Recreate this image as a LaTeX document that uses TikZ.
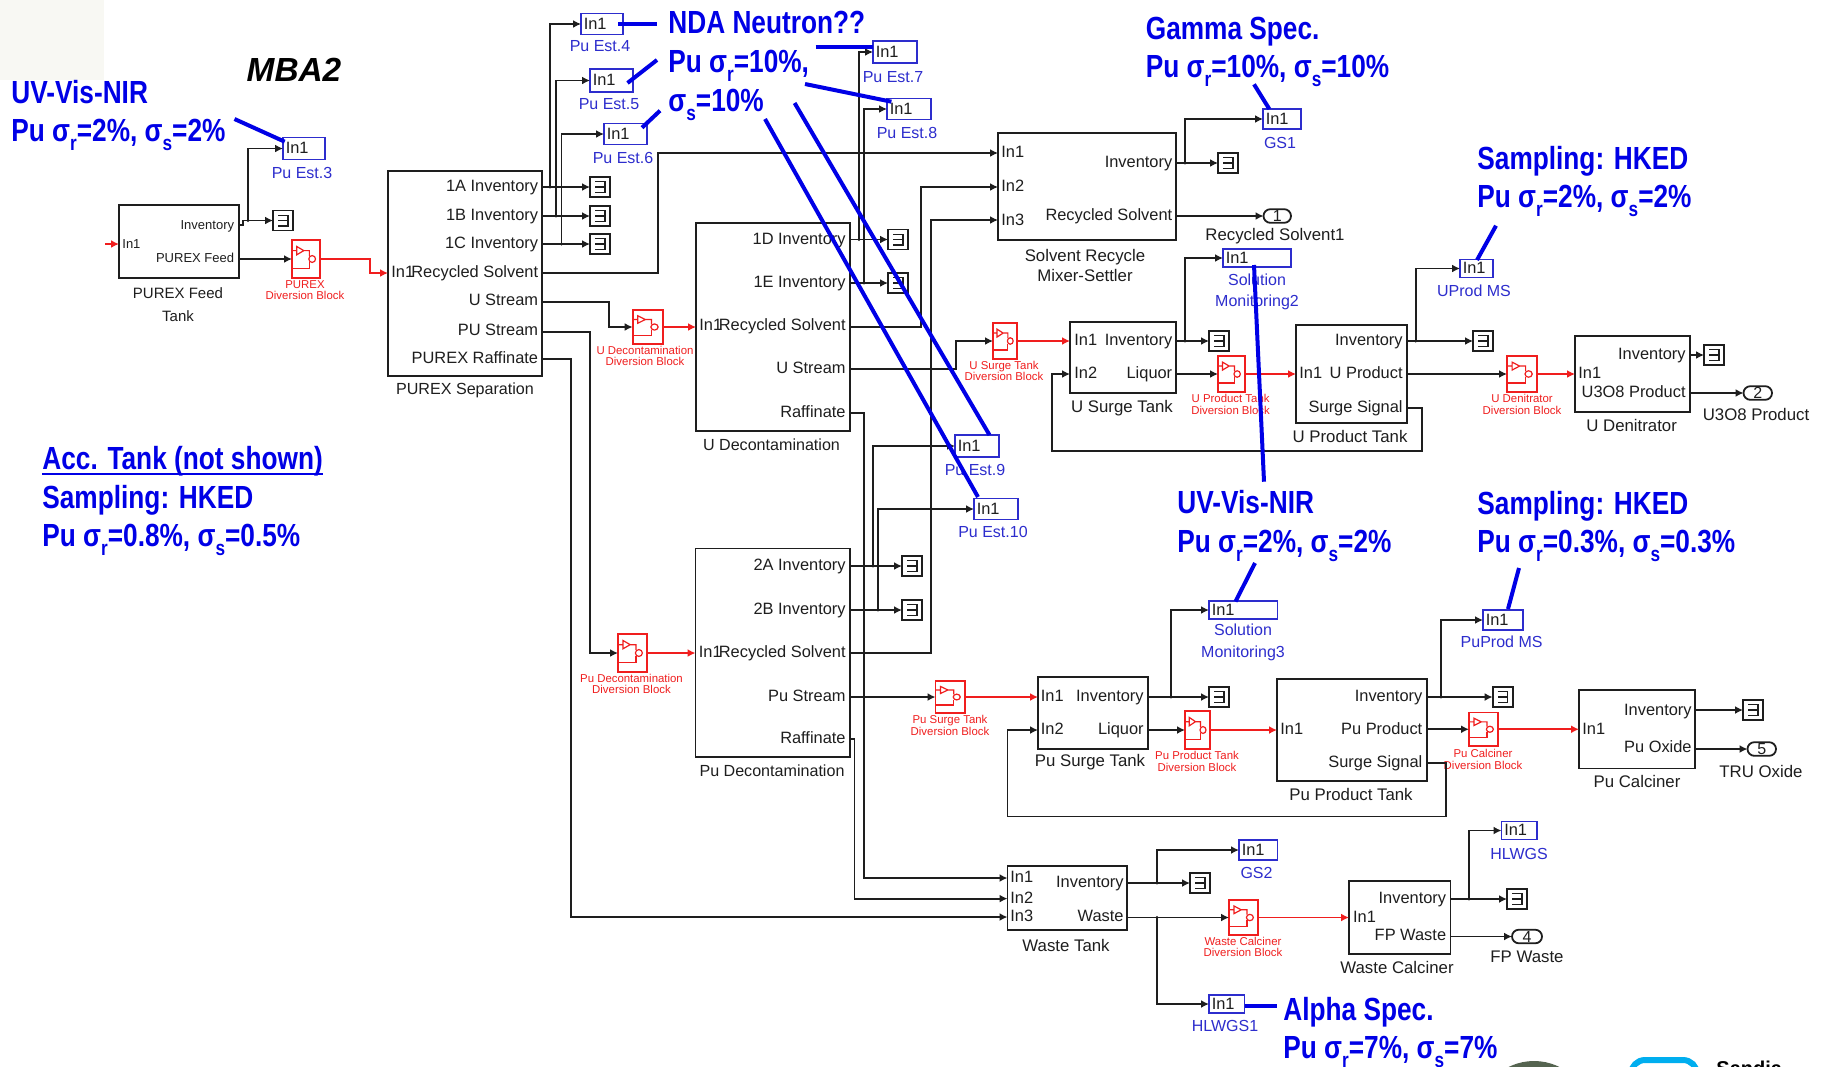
\documentclass[tikz,border=0pt]{standalone}
\usepackage{fontspec}
\setmainfont{Liberation Sans}
\newfontfamily\annofam[FakeStretch=0.82]{Liberation Sans}
\usetikzlibrary{arrows.meta,shapes.misc}
\definecolor{annoblue}{RGB}{0,0,230}
\definecolor{sinkblue}{RGB}{45,45,205}
\definecolor{divred}{RGB}{240,30,30}
\definecolor{ink}{RGB}{30,30,30}
\definecolor{patch}{RGB}{248,248,243}
\definecolor{sealgreen}{RGB}{85,100,80}
\definecolor{logocyan}{RGB}{0,174,239}
\newcommand\sbs[1]{\raisebox{-.28em}{\fontsize{10.5}{10.5}\selectfont #1}}
\newcommand\sgr{σ\sbs{r}}
\newcommand\sgs{σ\sbs{s}}
\newcommand\ulineb[1]{{\setbox0\hbox{#1}\rlap{\raisebox{-2.8pt}{\rule{\wd0}{1pt}}}\box0}}
\newcommand\capsize{8.05}
\tikzset{
  x=.5pt,y=-.5pt,
  sig/.style={draw=ink,line width=.9pt,-{Latex[length=4pt,width=4pt]}},
  rsig/.style={draw=divred,line width=.9pt,-{Latex[length=4pt,width=4pt]}},
  wirebox/.style={draw=ink,line width=.9pt,inner sep=0,outer sep=0},
  scopebox/.style={draw=ink,line width=.9pt,inner sep=0,outer sep=0,minimum width=10pt,minimum height=10pt},
  sinkbox/.style={draw=sinkblue,line width=.9pt,inner sep=0,outer sep=0},
  divbox/.style={draw=divred,line width=.9pt,inner sep=0,outer sep=0},
  outbox/.style={draw=ink,line width=.9pt,rounded rectangle,inner sep=0,outer sep=0,font=\fontsize{8}{8}\selectfont,text=ink},
  lab/.style={inner sep=0,text=ink,font=\fontsize{8.2}{8.2}\selectfont,text height=6pt,text depth=1.7pt,yshift=-.7pt},
  smalllab/.style={lab,font=\fontsize{6.5}{6.5}\selectfont},
  captext/.style={inner sep=0,text=ink,align=center,yshift=-.8pt},
  bcap/.style={inner sep=0,text=sinkblue,align=center,yshift=-.4pt},
  rcap/.style={inner sep=0,text=divred,align=center,font=\fontsize{5.7}{5.8}\selectfont},
  anno/.style={inner sep=0,anchor=west,align=left,text=annoblue,yshift=-2pt,font=\annofam\bfseries\fontsize{16}{19.4}\selectfont},
  annoline/.style={draw=annoblue,line width=2pt},
}
\newcommand\blk[5]{%
  \pgfmathsetmacro\bw{(#4-#2)*.5}\pgfmathsetmacro\bh{(#5-#3)*.5}%
  \node[wirebox,minimum width=\bw pt,minimum height=\bh pt] (#1) at ({(#2+#4)/2},{(#3+#5)/2}) {};}
\newcommand\scp[3]{%
  \node[scopebox,anchor=west] (#1) at (#2,#3) {};
  \draw[ink,line width=.6pt] ([xshift=-2.5pt,yshift=2.7pt]#1.center) -- ([xshift=2.5pt,yshift=2.7pt]#1.center) -- ([xshift=2.5pt,yshift=-2.7pt]#1.center) -- ([xshift=-2.5pt,yshift=-2.7pt]#1.center)
     ([xshift=2.5pt]#1.center) -- ([xshift=-2.5pt]#1.center);}
\newcommand\snk[5]{%
  \pgfmathsetmacro\bw{(#3-#2)*.5}\pgfmathsetmacro\bh{#5*.5}%
  \node[sinkbox,minimum width=\bw pt,minimum height=\bh pt] (#1) at ({(#2+#3)/2},#4) {};
  \node[lab,anchor=west,xshift=1.2pt,yshift=.3pt] (#1-t) at (#1.west) {In1};}
\newcommand\opt[5]{%
  \pgfmathsetmacro\bw{(#3-#2)*.5}%
  \node[outbox,minimum width=\bw pt,minimum height=6.8pt] (#1) at ({(#2+#3)/2},#4) {#5};}
\newcommand\dvb[5]{%
  \pgfmathsetmacro\bw{(#4-#2)*.5}\pgfmathsetmacro\bh{(#5-#3)*.5}%
  \node[divbox,minimum width=\bw pt,minimum height=\bh pt] (#1) at ({(#2+#4)/2},{(#3+#5)/2}) {};
  \begin{scope}[shift={(#2,#3)},x=\bw pt,y=-\bh pt,draw=divred,line width=.6pt]
    \draw (0,.28) -- (.17,.28) (.17,.17) -- (.17,.39) -- (.42,.28) -- cycle (.42,.28) -- (.62,.28) -- (.62,.42);
    \draw (.72,.5) ellipse (.12 and .09);
    \draw (0,.75) -- (.62,.75) -- (.62,.58);
  \end{scope}}
\newcommand\PL[4]{\node[lab,anchor=west] (#1) at (#2,#3) {#4};}
\newcommand\PR[4]{\node[lab,anchor=east] (#1) at (#2,#3) {#4};}
\newcommand\CP[5]{\node[captext,font=\fontsize{\capsize}{#5}\selectfont] (#1) at (#2,#3) {#4};}
\newcommand\BC[5]{\node[bcap,font=\fontsize{8}{#5}\selectfont] (#1) at (#2,#3) {#4};}
\newcommand\RC[4]{\node[rcap] (#1) at (#2,#3) {#4};}
\newcommand\jn[3]{\coordinate (#1) at (#2,#3);\fill[ink] (#1) circle (1.7);}
\newcommand\ann[5]{\coordinate (#1-a) at (#2,#3);\coordinate (#1-b) at (#4,#5);\draw[annoline] (#1-a) -- (#1-b);}
\begin{document}
\begin{tikzpicture}
\useasboundingbox (0,0) rectangle (1825,1066);
\fill[white] (0,0) rectangle (1825,1066);
\fill[patch] (0,0) rectangle (104,80);
\node[inner sep=0,text=black,font=\bfseries\itshape\fontsize{16.7}{16.7}\selectfont] (mba) at (294,70) {MBA2};

% ---------- subsystem blocks
\blk{feed}{119}{205}{239}{278}
\blk{sep}{388}{171}{542}{376}
\blk{sr}{998}{133}{1176}{240}
\blk{ud}{696}{223}{850}{431}
\blk{us}{1070}{322}{1176}{393}
\blk{upt}{1296}{325}{1407}{423}
\blk{den}{1575}{336}{1690}{412}
\blk{pd}{695.5}{548.5}{850}{757}
\blk{pst}{1038}{677}{1148}{749}
\blk{ppt}{1277}{679}{1427}{781}
\blk{cal}{1579}{690}{1695}{768.5}
\blk{wt}{1007.5}{866}{1127}{930}
\blk{wc}{1349}{881}{1450.5}{954}

% ---------- scopes
\scp{sc1}{273}{220.5}
\scp{sc2}{590}{187}\scp{sc3}{590}{216}\scp{sc4}{590}{244}
\scp{sc5}{888}{239.5}\scp{sc6}{888}{283}
\scp{sc7}{1218}{163}\scp{sc8}{1209}{341}\scp{sc9}{1473}{341}\scp{sc10}{1704}{355}
\scp{sc11}{902}{566}\scp{sc12}{902}{610}
\scp{sc13}{1209}{697}\scp{sc14}{1492.6}{697}\scp{sc15}{1743}{710}
\scp{sc16}{1190}{883}\scp{sc17}{1507}{899}

% ---------- measurement sinks
\snk{est3}{283}{325}{148.5}{22}
\snk{est4}{581}{623}{24}{21}
\snk{est5}{590}{633}{80.5}{23}
\snk{est6}{604}{647}{134}{21}
\snk{est7}{873}{917}{52}{22}
\snk{est8}{887}{931}{109}{21}
\snk{est9}{955}{999}{446}{22}
\snk{est10}{974}{1018}{509}{21}
\snk{gs1}{1263}{1301}{119}{20}
\snk{sm2}{1223}{1291}{258}{18}
\snk{uprod}{1460}{1493}{268.5}{18}
\snk{sm3}{1209}{1277.5}{610}{18}
\snk{puprod}{1483}{1523}{620}{20}
\snk{gs2}{1239}{1277.5}{850}{20}
\snk{hlwgs}{1501.5}{1537}{830.5}{18}
\snk{hlwgs1}{1209}{1244.5}{1004}{18}

% ---------- outports
\opt{op1}{1263.5}{1291}{216}{1}
\opt{op2}{1743.5}{1772}{393}{2}
\opt{op5}{1747.5}{1776}{749}{5}
\opt{op4}{1512}{1542}{936.5}{4}

% ---------- diversion blocks
\dvb{dv1}{292}{240}{320}{278}
\dvb{dvu}{632.6}{310}{663}{344}
\dvb{dvus}{993}{323}{1017}{359}
\dvb{dvup}{1218}{356}{1244.6}{392}
\dvb{dvd}{1507}{356}{1537}{392}
\dvb{dvp}{618}{634}{647}{672}
\dvb{dvps}{935.5}{681}{965}{713}
\dvb{dvpp}{1185}{711}{1210}{749}
\dvb{dvc}{1469}{712.5}{1498}{746}
\dvb{dvw}{1229}{900}{1258}{935}

% ---------- port labels
\node[smalllab,anchor=west] (f1) at (122,243) {In1};
\node[smalllab,anchor=east] (f2) at (234.5,224) {Inventory};
\node[smalllab,anchor=east] (f3) at (234.5,256.5) {PUREX Feed};
\PR{s1}{538.5}{186}{1A Inventory}\PR{s2}{538.5}{215}{1B Inventory}\PR{s3}{538.5}{243}{1C Inventory}
\PL{s0}{391}{272}{In1}\PR{s4}{538.5}{272}{Recycled Solvent}\PR{s5}{538.5}{300}{U Stream}
\PR{s6}{538.5}{330}{PU Stream}\PR{s7}{538.5}{358}{PUREX Raffinate}
\PL{r1}{1001}{152}{In1}\PL{r2}{1001}{186}{In2}\PL{r3}{1001}{220}{In3}
\PR{r4}{1172.6}{162}{Inventory}\PR{r5}{1172.6}{215}{Recycled Solvent}
\PL{u0}{699}{325}{In1}\PR{u1}{846}{239}{1D Inventory}\PR{u2}{846}{282}{1E Inventory}
\PR{u3}{846}{325}{Recycled Solvent}\PR{u4}{846}{368}{U Stream}\PR{u5}{846}{412}{Raffinate}
\PL{su1}{1074}{340}{In1}\PL{su2}{1074}{373}{In2}\PR{su3}{1172.6}{340}{Inventory}\PR{su4}{1172.6}{373}{Liquor}
\PL{pu0}{1299}{373}{In1}\PR{pu1}{1403}{340}{Inventory}\PR{pu2}{1403}{373}{U Product}\PR{pu3}{1403}{407}{Surge Signal}
\PL{d0}{1578}{373}{In1}\PR{d1}{1686}{354}{Inventory}\PR{d2}{1686}{392}{U3O8 Product}
\PL{p0}{698.5}{651.5}{In1}\PR{p1}{846}{565}{2A Inventory}\PR{p2}{846}{609}{2B Inventory}
\PR{p3}{846}{651.5}{Recycled Solvent}\PR{p4}{846}{696}{Pu Stream}\PR{p5}{846}{738}{Raffinate}
\PL{ps1}{1040.5}{696}{In1}\PL{ps2}{1040.5}{729}{In2}\PR{ps3}{1144}{696}{Inventory}\PR{ps4}{1144}{729}{Liquor}
\PL{pp0}{1280}{728.5}{In1}\PR{pp1}{1422.7}{696}{Inventory}\PR{pp2}{1422.7}{728.5}{Pu Product}\PR{pp3}{1422.7}{762}{Surge Signal}
\PL{c0}{1582}{728.5}{In1}\PR{c1}{1692}{710}{Inventory}\PR{c2}{1692}{747}{Pu Oxide}
\PL{w1}{1010}{877}{In1}\PL{w2}{1010}{898}{In2}\PL{w3}{1010}{916}{In3}\PR{w4}{1124}{882}{Inventory}\PR{w5}{1124}{916}{Waste}
\PL{wc0}{1352.7}{916.5}{In1}\PR{wc1}{1446.5}{898}{Inventory}\PR{wc2}{1446.5}{935}{FP Waste}

% ---------- captions
\node[captext,font=\fontsize{7.5}{11.5}\selectfont] (cf) at (178,303) {PUREX Feed\\Tank};
\CP{cs}{465}{389}{PUREX Separation}{8}
\CP{cu}{771.5}{443}{U Decontamination}{8}
\CP{cp}{772}{769}{Pu Decontamination}{8}
\renewcommand\capsize{8.4}
\CP{csr}{1085}{264}{Solvent Recycle\\Mixer-Settler}{10}
\CP{cus}{1122}{407}{U Surge Tank}{8}
\CP{cup}{1350}{435}{U Product Tank}{8}
\CP{cd}{1631.6}{424}{U Denitrator}{8}
\CP{cop2}{1756}{413}{U3O8 Product}{8}
\CP{cop1}{1275}{235}{Recycled Solvent1}{8}
\CP{cps}{1090}{761}{Pu Surge Tank}{8}
\CP{cpp}{1351}{793}{Pu Product Tank}{8}
\CP{cc}{1637}{780}{Pu Calciner}{8}
\CP{cop5}{1761}{770}{TRU Oxide}{8}
\CP{cw}{1066}{944}{Waste Tank}{8}
\CP{cwc}{1397}{966}{Waste Calciner}{8}
\CP{cop4}{1527}{955}{FP Waste}{8}

\BC{be3}{302}{172}{Pu Est.3}{8}
\BC{be4}{600}{45}{Pu Est.4}{8}
\BC{be5}{609}{103}{Pu Est.5}{8}
\BC{be6}{623}{157}{Pu Est.6}{8}
\BC{be7}{893}{76}{Pu Est.7}{8}
\BC{be8}{907}{132}{Pu Est.8}{8}
\BC{be9}{975}{469}{Pu Est.9}{8}
\BC{be10}{993}{531}{Pu Est.10}{8}
\BC{bg1}{1280}{142}{GS1}{8}
\BC{bsm2}{1257}{291}{Solution\\Monitoring2}{10.2}
\BC{bup}{1474}{290}{UProd MS}{8}
\BC{bsm3}{1243}{641.5}{Solution\\Monitoring3}{11}
\BC{bpu}{1501.6}{641}{PuProd MS}{8}
\BC{bg2}{1256.5}{872}{GS2}{8}
\BC{bh}{1519}{853}{HLWGS}{8}
\BC{bh1}{1225}{1025}{HLWGS1}{8}

\RC{rd1}{305}{290}{PUREX\\Diversion Block}
\RC{rdu}{645}{356}{U Decontamination\\Diversion Block}
\RC{rdus}{1004}{371}{U Surge Tank\\Diversion Block}
\RC{rdup}{1230.6}{404.5}{U Product Tank\\Diversion Block}
\RC{rdd}{1522}{404.5}{U Denitrator\\Diversion Block}
\RC{rdp}{631.5}{684}{Pu Decontamination\\Diversion Block}
\RC{rdps}{950}{725.5}{Pu Surge Tank\\Diversion Block}
\RC{rdpp}{1197}{761.5}{Pu Product Tank\\Diversion Block}
\RC{rdc}{1483}{759.5}{Pu Calciner\\Diversion Block}
\RC{rdw}{1243}{947}{Waste Calciner\\Diversion Block}

% ---------- connectors
\coordinate (feedsrc) at (105,244);
\draw[rsig] (feedsrc) -- (feed.west |- feedsrc);
\draw[sig] (feed.east |- 0,225) -- ++(4,0) |- (sc1.west);
\jn{j1}{248}{220.5}\draw[sig] (j1) |- (est3.west);
\draw[sig] (dv1.west -| feed.east) -- (dv1.west);
\draw[rsig] (dv1.east) -- (370,259) |- (sep.west |- 0,273);

\draw[sig] (sc2.west -| sep.east) -- (sc2.west);
\draw[sig] (sc3.west -| sep.east) -- (sc3.west);
\draw[sig] (sc4.west -| sep.east) -- (sc4.west);
\jn{j2}{550}{187}\draw[sig] (j2) |- (est4.west);
\jn{j3}{556}{216}\draw[sig] (j3) |- (est5.west);
\jn{j4}{561.5}{244}\draw[sig] (j4) |- (est6.west);
\draw[sig] (sep.east |- 0,273) -- (658,273) |- (sr.west |- 0,153);
\draw[sig] (sep.east |- 0,302) -- (609,302) |- (dvu.west);
\draw[sig] (sep.east |- 0,332) -- (590,332) |- (dvp.west);
\draw[sig] (sep.east |- 0,359) -- (571,359) |- (wt.west |- 0,917);
\draw[rsig] (dvu.east) -- (ud.west |- dvu.east);
\draw[rsig] (dvp.east) -- (pd.west |- dvp.east);

\draw[sig] (sc5.west -| ud.east) -- (sc5.west);
\draw[sig] (sc6.west -| ud.east) -- (sc6.west);
\jn{j5}{859}{239.5}\draw[sig] (j5) |- (est7.west);
\jn{j6}{864}{283}\draw[sig] (j6) |- (est8.west);
\draw[sig] (ud.east |- 0,327) -- (921,327) |- (sr.west |- 0,187);
\draw[sig] (ud.east |- 0,369) -- (956,369) |- (dvus.west);
\draw[sig] (ud.east |- 0,413) -- (864,413) |- (wt.west |- 0,878);
\draw[rsig] (dvus.east) -- (us.west |- dvus.east);

\draw[sig] (sc11.west -| pd.east) -- (sc11.west);
\draw[sig] (sc12.west -| pd.east) -- (sc12.west);
\jn{j7}{873}{566}\draw[sig] (j7) |- (est9.west);
\jn{j8}{878}{610}\draw[sig] (j8) |- (est10.west);
\draw[sig] (pd.east |- 0,653) -- (931,653) |- (sr.west |- 0,220);
\draw[sig] (dvps.west -| pd.east) -- (dvps.west);
\draw[sig] (pd.east |- 0,739) -- (854.5,739) |- (wt.west |- 0,898.6);
\draw[rsig] (dvps.east) -- (pst.west |- dvps.east);

\draw[sig] (sc7.west -| sr.east) -- (sc7.west);
\jn{j9}{1185}{163}\draw[sig] (j9) |- (gs1.west);
\draw[sig] (op1.west -| sr.east) -- (op1.west);

\draw[sig] (sc8.west -| us.east) -- (sc8.west);
\jn{j10}{1185}{341}\draw[sig] (j10) |- (sm2.west);
\draw[sig] (dvup.west -| us.east) -- (dvup.west);
\draw[rsig] (dvup.east) -- (upt.west |- dvup.east);
\draw[sig] (sc9.west -| upt.east) -- (sc9.west);
\jn{j11}{1415.7}{341}\draw[sig] (j11) |- (uprod.west);
\draw[sig] (dvd.west -| upt.east) -- (dvd.west);
\draw[rsig] (dvd.east) -- (den.west |- dvd.east);
\draw[sig] (upt.east |- 0,408) -- (1422,408) -- (1422,451) -- (1052,451) |- (us.west |- 0,374);
\draw[sig] (sc10.west -| den.east) -- (sc10.west);
\draw[sig] (op2.west -| den.east) -- (op2.west);

\draw[sig] (sc13.west -| pst.east) -- (sc13.west);
\jn{j12}{1171}{697}\draw[sig] (j12) |- (sm3.west);
\draw[sig] (dvpp.west -| pst.east) -- (dvpp.west);
\draw[rsig] (dvpp.east) -- (ppt.west |- dvpp.east);
\draw[sig] (sc14.west -| ppt.east) -- (sc14.west);
\jn{j13}{1441}{697}\draw[sig] (j13) |- (puprod.west);
\draw[sig] (dvc.west -| ppt.east) -- (dvc.west);
\draw[rsig] (dvc.east) -- (cal.west |- dvc.east);
\draw[sig] (ppt.east |- 0,763) -- (1445.7,763) -- (1445.7,816.5) -- (1007.5,816.5) |- (pst.west |- 0,730);
\draw[sig] (sc15.west -| cal.east) -- (sc15.west);
\draw[sig] (op5.west -| cal.east) -- (op5.west);

\draw[sig] (sc16.west -| wt.east) -- (sc16.west);
\jn{j14}{1157}{883}\draw[sig] (j14) |- (gs2.west);
\draw[sig] (dvw.west -| wt.east) -- (dvw.west);
\jn{j15}{1157}{917.5}\draw[sig] (j15) |- (hlwgs1.west);
\draw[rsig] (dvw.east) -- (wc.west |- dvw.east);
\draw[sig] (sc17.west -| wc.east) -- (sc17.west);
\jn{j16}{1469}{899}\draw[sig] (j16) |- (hlwgs.west);
\draw[sig] (op4.west -| wc.east) -- (op4.west);

% ---------- annotations
\node[anno] (a1) at (11,111.5) {UV-Vis-NIR\\Pu \sgr=2\%, \sgs=2\%};
\node[anno] (a2) at (668,62) {NDA Neutron??\\Pu \sgr=10\%,\\\sgs=10\%};
\node[anno] (a3) at (1145.5,48) {Gamma Spec.\\Pu \sgr=10\%, \sgs=10\%};
\node[anno] (a4) at (1477,177.5) {Sampling: HKED\\Pu \sgr=2\%, \sgs=2\%};
\node[anno] (a5) at (1177,522) {UV-Vis-NIR\\Pu \sgr=2\%, \sgs=2\%};
\node[anno] (a6) at (1477,522.5) {Sampling: HKED\\Pu \sgr=0.3\%, \sgs=0.3\%};
\node[anno] (a7) at (1283,1028.5) {Alpha Spec.\\Pu \sgr=7\%, \sgs=7\%};
\node[anno] (a8) at (42,497) {\ulineb{Acc. Tank (not shown)}\\Sampling: HKED\\Pu \sgr=0.8\%, \sgs=0.5\%};

\ann{l1}{234.5}{119}{284.7}{141.7}
\ann{l2}{618}{24}{656.6}{24}
\ann{l3}{627.5}{83}{657}{60}
\ann{l4}{642}{127.7}{660}{110.7}
\ann{l5}{815.7}{46.7}{872.5}{46.7}
\ann{l6}{805}{84}{891.4}{101.7}
\ann{l7}{794.6}{103}{989.5}{435}
\ann{l8}{765}{119}{978}{497}
\ann{l9}{1254}{84.3}{1269.3}{109}
\ann{l10}{1496}{225.7}{1477}{260}
\ann{l11}{1254}{265}{1264}{481.7}
\ann{l12}{1255}{563}{1235.5}{601.5}
\ann{l13}{1519}{568}{1508}{609}
\ann{l14}{1244.6}{1006}{1277}{1006}

% ---------- logos at the lower edge
\fill[sealgreen] (1534,1118) circle (57);
\draw[logocyan,line width=3pt,rounded corners=7pt] (1631,1110) rectangle (1697,1060);
\node[inner sep=0,anchor=base west,text=black,font=\bfseries\fontsize{10}{10}\selectfont] (sandia) at (1716,1075) {Sandia};
\end{tikzpicture}
\end{document}
